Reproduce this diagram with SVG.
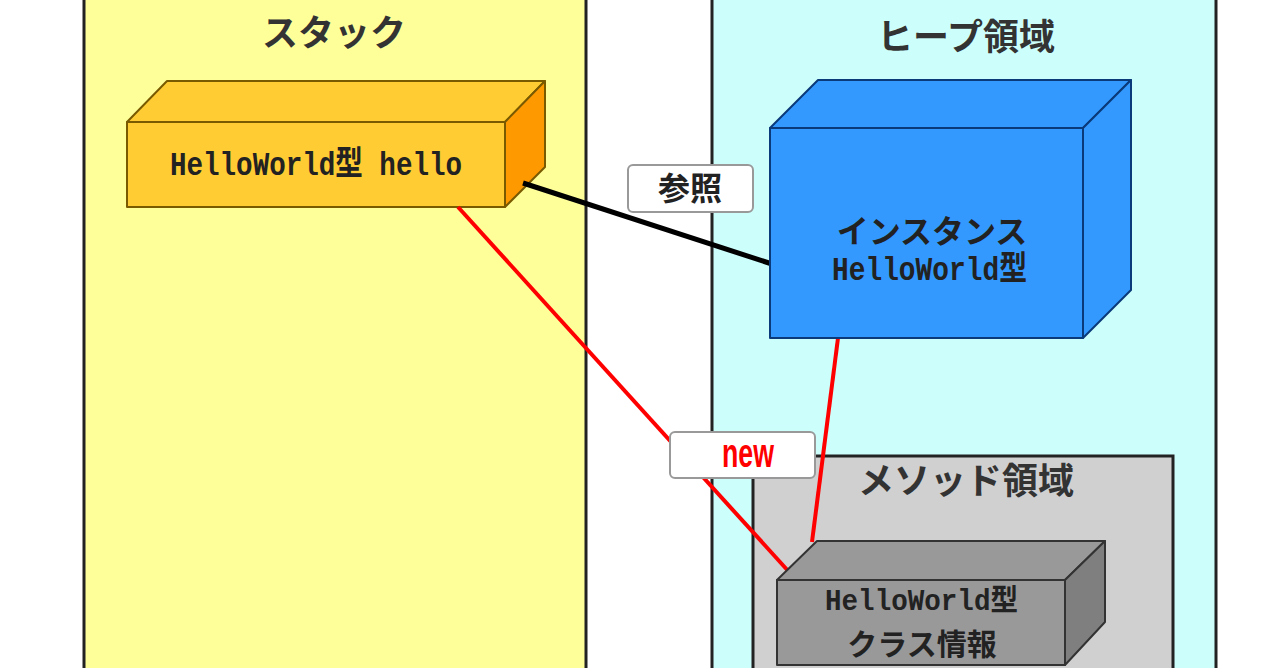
<svg xmlns="http://www.w3.org/2000/svg" width="1280" height="668" viewBox="0 0 1280 668">
<style>
.panel{stroke:#222;stroke-width:3}
.title{font-family:"Noto Sans CJK JP","Liberation Sans",sans-serif;font-weight:bold;font-size:36px;fill:#333;text-anchor:middle}
.lbl{font-family:"Liberation Mono","Noto Sans CJK JP",monospace;font-weight:bold;fill:#222}
.jp{font-family:"Noto Sans CJK JP",sans-serif;font-weight:bold;fill:#222;text-anchor:middle}
.edge{stroke-linejoin:round;stroke-width:2}
.tag{fill:#fff;stroke:#999;stroke-width:2}
</style>
<rect width="1280" height="668" fill="#fff"/>
<g id="stack">
<rect class="panel" x="84" y="-2" width="502" height="680" fill="#ffff9a"/>
<text class="title" x="334" y="46">スタック</text>
</g>
<g id="heap">
<rect class="panel" x="712" y="-2" width="504" height="680" fill="#ccfffc"/>
<text class="title" x="966" y="50">ヒープ領域</text>
</g>
<g id="method">
<rect class="panel" x="753" y="456" width="420" height="222" fill="#d0d0d0"/>
<text class="title" x="966" y="494">メソッド領域</text>
</g>
<g id="hello-var">
<polygon class="edge" points="127,122 167,81 545,81 505,122" fill="#ffcc33" stroke="#7a5a00"/>
<polygon class="edge" points="505,122 545,81 545,167 505,207" fill="#ff9900" stroke="#7a5a00"/>
<rect class="edge" x="127" y="122" width="378" height="85" fill="#ffcc33" stroke="#7a5a00"/>
<text class="lbl" x="170" y="175" font-size="34" textLength="292" lengthAdjust="spacingAndGlyphs">HelloWorld型 hello</text>
</g>
<g id="connectors">
<line x1="458" y1="207" x2="790" y2="573" stroke="#ff0000" stroke-width="4"/>
<line x1="838" y1="338" x2="812" y2="542" stroke="#ff0000" stroke-width="4"/>
<line x1="523" y1="183" x2="772" y2="264" stroke="#000" stroke-width="5"/>
<g id="ref-label">
<rect class="tag" x="628" y="165" width="125" height="47" rx="5"/>
<text class="jp" x="690" y="200" font-size="32">参照</text>
</g>
<g id="new-label">
<rect class="tag" x="670" y="432" width="145" height="46" rx="5"/>
<text x="748" y="467" font-family="Liberation Sans, sans-serif" font-size="40" font-weight="bold" fill="#ff0000" text-anchor="middle" textLength="52" lengthAdjust="spacingAndGlyphs">new</text>
</g>
</g>
<g id="instance">
<polygon class="edge" points="770,128 818,80 1131,80 1083,128" fill="#3399ff" stroke="#0a3a7a"/>
<polygon class="edge" points="1083,128 1131,80 1131,290 1083,338" fill="#3399ff" stroke="#0a3a7a"/>
<rect class="edge" x="770" y="128" width="313" height="210" fill="#3399ff" stroke="#0a3a7a"/>
<text class="jp" x="932" y="243" font-size="32">インスタンス</text>
<text class="lbl" x="832" y="280" font-size="34" textLength="195" lengthAdjust="spacingAndGlyphs">HelloWorld型</text>
</g>
<g id="class-info">
<polygon class="edge" points="777,580 817,541 1105,541 1065,580" fill="#999999" stroke="#333"/>
<polygon class="edge" points="1065,580 1105,541 1105,622 1065,665" fill="#7f7f7f" stroke="#333"/>
<rect class="edge" x="777" y="580" width="288" height="85" fill="#999999" stroke="#333"/>
<text class="lbl" x="825" y="610" font-size="30" textLength="193" lengthAdjust="spacingAndGlyphs">HelloWorld型</text>
<text class="jp" x="922" y="655" font-size="30">クラス情報</text>
</g>
</svg>
